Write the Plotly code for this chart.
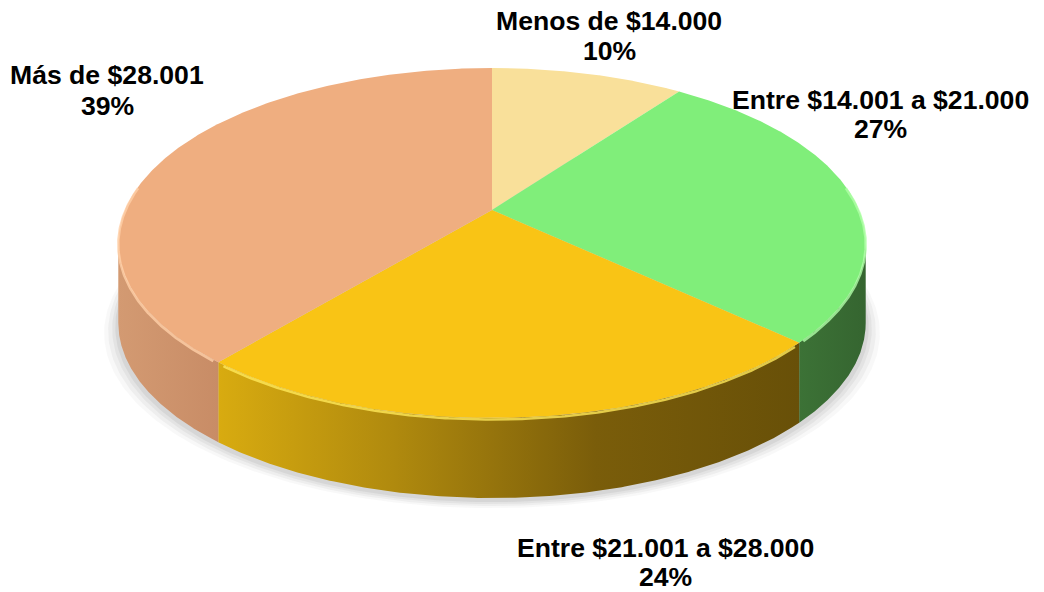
import numpy as np
import plotly.graph_objects as go

# ---- data ----
categories = ["Menos de $14.000", "Entre $14.001 a $21.000",
              "Entre $21.001 a $28.000", "Más de $28.001"]
percentages = [10, 27, 24, 39]
top_colors = ["#F9E09A", "#80EE7A", "#F9C415", "#EFAE80"]
side_scales = [
    [[0, "#C9B070"], [1, "#C9B070"]],
    [[0, "#3C7236"], [1, "#356530"]],
    [[0, "#D8AB10"], [0.3, "#B08A0E"], [0.65, "#7A5D0A"], [1, "#685008"]],
    [[0, "#D39A72"], [1, "#C88C66"]],
]
rim_colors = ["#FFF0C0", "#B0FFA8", "#FFE85A", "#FFD0A8"]

# ---- projection parameters (page pixel space) ----
CX, CY = 492.0, 210.0      # projected pie centre
A, B, K = 367.0, 168.8, 0.1886
H = 80.0                    # thickness


def proj(theta_deg, dy=0.0):
    t = np.radians(np.asarray(theta_deg, dtype=float))
    X = np.sin(t)
    Y = -np.cos(t)
    w = 1 - K * Y
    return CX + A * X / w, CY + B * Y / w + dy


vals = np.array(percentages, dtype=float)
ends = np.cumsum(vals) / vals.sum() * 360.0
starts = np.concatenate([[0.0], ends[:-1]])

# visible side interval (silhouette where Y == K)
vis_lo = np.degrees(np.arccos(-K))
vis_hi = 360.0 - vis_lo

fig = go.Figure()

# ---- soft shadow ----
th_all = np.linspace(0, 360, 361)
for grow, off, op in [(14, 10, 0.05), (10, 8, 0.07), (6, 6, 0.09), (3, 4, 0.12)]:
    x, y = proj(th_all, H + off)
    xs = CX + (x - CX) * (1 + grow / 370.0)
    fig.add_trace(go.Scatter(x=xs, y=y, mode="lines", fill="toself",
                             line=dict(width=0), fillcolor=f"rgba(120,120,120,{op})",
                             hoverinfo="skip", showlegend=False))

# ---- sides ----
for i in range(len(vals)):
    lo = max(starts[i], vis_lo)
    hi = min(ends[i], vis_hi)
    if hi <= lo:
        continue
    th = np.linspace(lo, hi, 200)
    xt, yt = proj(th)
    xb, yb = proj(th[::-1], H)
    xs = np.concatenate([xt, xb, xt[:1]])
    ys = np.concatenate([yt, yb, yt[:1]])
    fig.add_trace(go.Scatter(
        x=xs, y=ys, mode="lines", fill="toself", line=dict(width=0),
        fillgradient=dict(type="horizontal", colorscale=side_scales[i],
                          start=float(xs.min()), stop=float(xs.max())),
        hoverinfo="skip", showlegend=False))

# ---- top faces ----
for i in range(len(vals)):
    th = np.linspace(starts[i], ends[i], 300)
    xa, ya = proj(th)
    xs = np.concatenate([[CX], xa, [CX]])
    ys = np.concatenate([[CY], ya, [CY]])
    fig.add_trace(go.Scatter(x=xs, y=ys, mode="lines", fill="toself",
                             line=dict(width=0), fillcolor=top_colors[i],
                             hoverinfo="skip", showlegend=False))

# ---- rim highlights ----
for i in range(len(vals)):
    lo = max(starts[i], vis_lo - 20)
    hi = min(ends[i], vis_hi + 20)
    if hi <= lo:
        continue
    th = np.linspace(lo + 1, hi - 1, 200)
    xt, yt = proj(th, 1.5)
    fig.add_trace(go.Scatter(x=xt, y=yt, mode="lines",
                             line=dict(width=2.5, color=rim_colors[i]),
                             opacity=0.8, hoverinfo="skip", showlegend=False))

# ---- labels ----
label_pos = [(609, 21, 51), (880, 100, 129), (665, 548, 577), (107, 75, 106)]
FONT = dict(family="Liberation Sans, Arial, sans-serif", size=26.6, color="#000000")
for cat, pct, (lx, ly1, ly2) in zip(categories, percentages, label_pos):
    fig.add_annotation(x=lx, y=ly1, text=f"<b>{cat}</b>", showarrow=False,
                       xanchor="center", yanchor="middle", font=FONT)
    fig.add_annotation(x=lx, y=ly2, text=f"<b>{pct}%</b>", showarrow=False,
                       xanchor="center", yanchor="middle", font=FONT)

W, HGT = 1044, 592
fig.update_layout(
    width=W, height=HGT, autosize=False,
    margin=dict(l=0, r=0, t=0, b=0),
    paper_bgcolor="white", plot_bgcolor="white",
    xaxis=dict(range=[0, W], visible=False, fixedrange=True),
    yaxis=dict(range=[HGT, 0], visible=False, fixedrange=True),
    showlegend=False,
    hovermode=False,
)

fig.write_html(
    "out.html",
    config={"displayModeBar": False, "staticPlot": True},
    post_script="document.body.style.margin='0px';document.body.style.overflow='hidden';",
)
